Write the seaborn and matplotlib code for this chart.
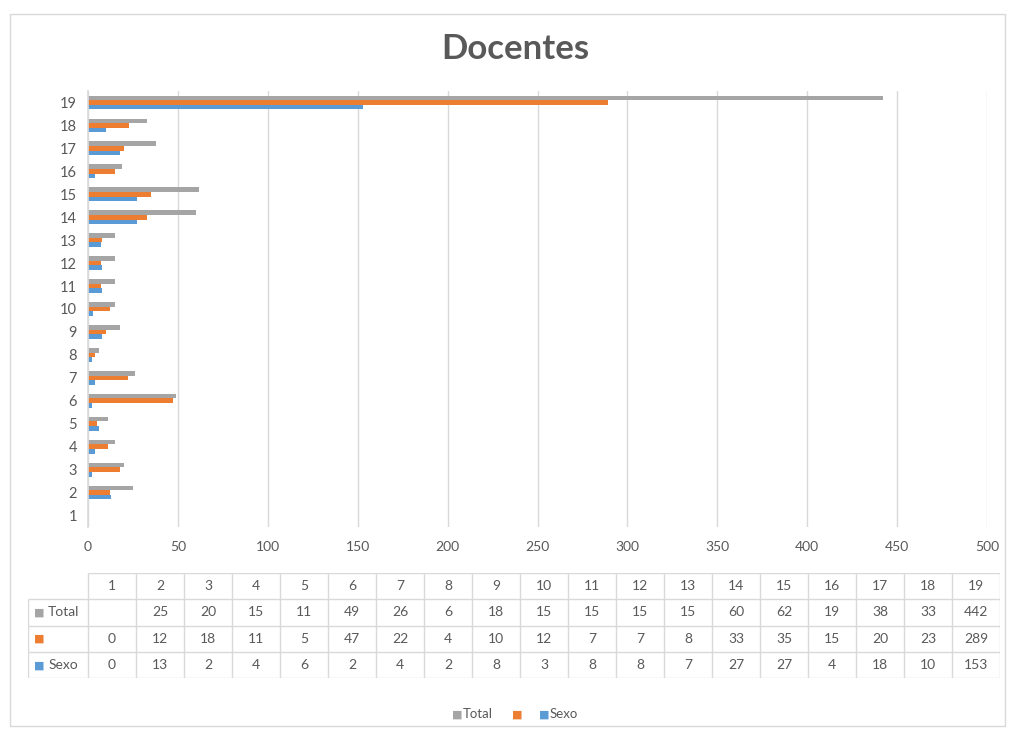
import numpy as np
import pandas as pd
import matplotlib
matplotlib.use("Agg")
import matplotlib.pyplot as plt
from matplotlib.patches import Rectangle
import seaborn as sns

categories = [str(i) for i in range(1, 20)]
total = [np.nan, 25, 20, 15, 11, 49, 26, 6, 18, 15, 15, 15, 15, 60, 62, 19, 38, 33, 442]
serie2 = [0, 12, 18, 11, 5, 47, 22, 4, 10, 12, 7, 7, 8, 33, 35, 15, 20, 23, 289]
sexo = [0, 13, 2, 4, 6, 2, 4, 2, 8, 3, 8, 8, 7, 27, 27, 4, 18, 10, 153]
series_names = ["Total", "", "Sexo"]
series_labels = ["Total", " ", "Sexo"]  # internal hue keys
colors = ["#A5A5A5", "#ED7D31", "#5B9BD5"]
xticks = [0, 50, 100, 150, 200, 250, 300, 350, 400, 450, 500]

sns.set_theme(style="white")
plt.rcParams["font.family"] = ["Lato", "DejaVu Sans"]
txt = "#595959"

df = pd.DataFrame({
    "cat": categories * 3,
    "serie": [series_labels[0]] * 19 + [series_labels[1]] * 19 + [series_labels[2]] * 19,
    "val": total + serie2 + sexo,
})

fig = plt.figure(figsize=(10.1, 7.32), dpi=100)
W, H = 1010, 732
def fx(p): return p / W
def fy(p): return 1 - p / H

fig.patches.append(Rectangle((fx(10), fy(726)), fx(995), (726 - 14) / H,
                             transform=fig.transFigure, fill=False,
                             edgecolor="#D9D9D9", lw=1))

ax = fig.add_axes([fx(88), fy(527), fx(987 - 88), (527 - 91) / H])
sns.barplot(data=df, y="cat", x="val", hue="serie", orient="h",
            order=categories[::-1], hue_order=series_labels,
            palette=colors, width=0.6, ax=ax, saturation=1, legend=False,
            edgecolor="none", linewidth=0)
ax.set_xlim(0, 500)
ax.set_xticks(xticks)
ax.set_xticklabels([str(t) for t in xticks], color=txt, fontsize=10)
ax.tick_params(axis="y", labelsize=10.5, labelcolor=txt, length=0, pad=8)
ax.tick_params(axis="x", length=0, pad=10)
ax.grid(axis="x", color="#D9D9D9", lw=1)
ax.set_axisbelow(True)
for s in ["top", "right", "bottom"]:
    ax.spines[s].set_visible(False)
ax.spines["left"].set_color("#D9D9D9")
ax.set_xlabel("")
ax.set_ylabel("")

fig.text(fx(515), fy(49), "Docentes", ha="center", va="center",
         fontsize=25, fontweight="bold", color=txt)

# data table
tax = fig.add_axes([fx(28), fy(678), fx(1000 - 28), (678 - 573) / H])
lab_w = (88 - 28) / ((1000 - 88) / 19)
tax.set_xlim(-lab_w, 19)
tax.set_ylim(4, 0)
tax.axis("off")
lc = "#D9D9D9"
tax.hlines([0], 0, 19, color=lc, lw=1)
tax.hlines([1, 2, 3, 4], -lab_w, 19, color=lc, lw=1)
tax.vlines(np.arange(0, 20), 0, 4, color=lc, lw=1)
tax.vlines([-lab_w], 1, 4, color=lc, lw=1)
for i, c in enumerate(categories):
    tax.text(i + 0.5, 0.5, c, ha="center", va="center", color=txt, fontsize=10)
rows = [total, serie2, sexo]
for r, (vals, name, col) in enumerate(zip(rows, series_names, colors)):
    y = r + 1.5
    tax.text(-lab_w + 0.12, y, "■", ha="left", va="center", color=col, fontsize=8)
    tax.text(-lab_w + 0.42, y, name, ha="left", va="center", color=txt, fontsize=10)
    for i, v in enumerate(vals):
        if not (isinstance(v, float) and np.isnan(v)):
            tax.text(i + 0.5, y, f"{int(v)}", ha="center", va="center", color=txt, fontsize=10)

# legend
lx = [452, 512, 539]
for x0, name, col in zip(lx, series_names, colors):
    fig.text(fx(x0), fy(714), "■", ha="left", va="center", color=col, fontsize=8)
    fig.text(fx(x0 + 11), fy(714), name, ha="left", va="center", color=txt, fontsize=9.5)

fig.savefig("out.png", dpi=100, facecolor="white")
